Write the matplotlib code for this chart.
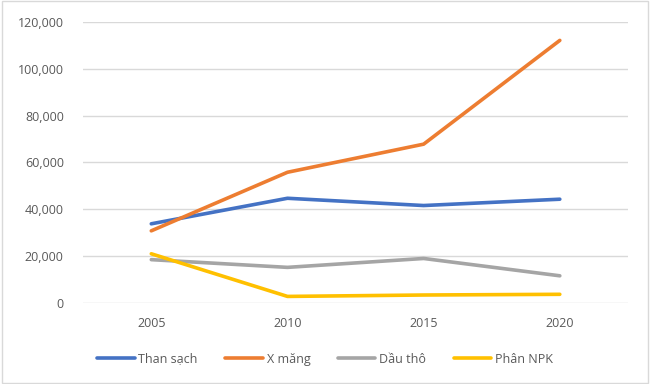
import matplotlib
matplotlib.use("Agg")
import matplotlib.pyplot as plt
from matplotlib.patches import Rectangle
from matplotlib.ticker import FuncFormatter

years = ["2005", "2010", "2015", "2020"]
than_sach = [33800, 44700, 41600, 44300]
xi_mang = [30800, 55800, 67800, 112100]
dau_tho = [18500, 15200, 19000, 11600]
phan_npk = [21000, 2800, 3400, 3700]

series_names = ["Than sạch", "X măng", "Dầu thô", "Phân NPK"]
colors = ["#4472C4", "#ED7D31", "#A5A5A5", "#FFC000"]

plt.rcParams['font.family'] = ['Open Sans', 'DejaVu Sans']

fig = plt.figure(figsize=(6.5, 3.84), dpi=100)
ax = fig.add_axes([0.128, 0.211, 0.838, 0.732])

x = list(range(len(years)))
for vals, name, c in zip([than_sach, xi_mang, dau_tho, phan_npk], series_names, colors):
    ax.plot(x, vals, color=c, lw=2.6, label=name, solid_capstyle='round', zorder=3)

ax.set_xlim(-0.5, len(years) - 0.5)
ax.set_ylim(0, 120000)
ax.set_yticks(range(0, 120001, 20000))
ax.yaxis.set_major_formatter(FuncFormatter(lambda v, p: f"{int(v):,}"))
ax.set_xticks(x)
ax.set_xticklabels(years)
ax.grid(axis='y', color='#D9D9D9', lw=1.0, zorder=0)
for s in ax.spines.values():
    s.set_visible(False)
ax.tick_params(length=0, colors='#595959', labelsize=9)
ax.tick_params(axis='y', pad=14)
ax.tick_params(axis='x', pad=10)

leg = fig.legend(loc='center', bbox_to_anchor=(0.5, 0.065), ncol=4, frameon=False,
                 fontsize=9, handlelength=3.0, handletextpad=0.3, columnspacing=2.2)
for t in leg.get_texts():
    t.set_color('#595959')

fig.patches.append(Rectangle((0.003, 0.003), 0.994, 0.994, transform=fig.transFigure,
                             fill=False, edgecolor='#D9D9D9', lw=1.0))

fig.savefig("out.png", dpi=100, facecolor='white')
